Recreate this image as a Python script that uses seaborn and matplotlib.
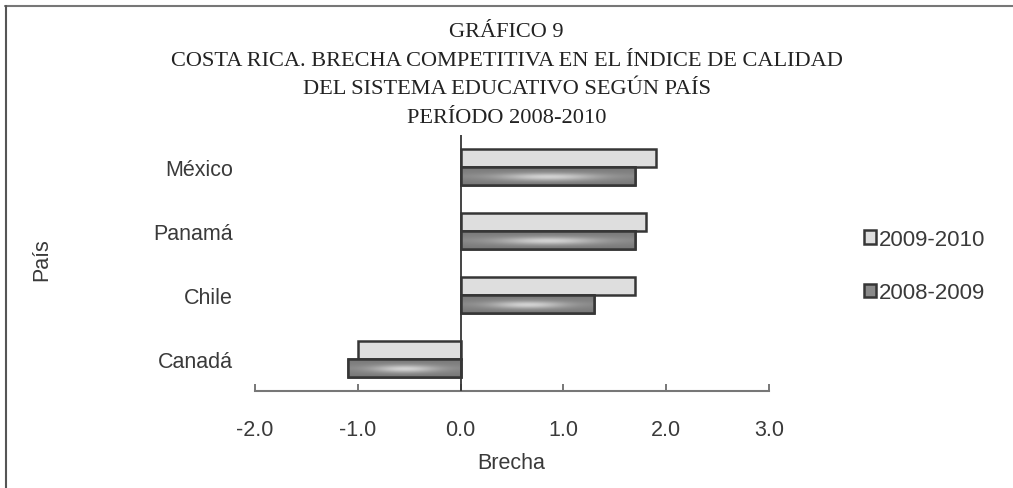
import numpy as np
import pandas as pd
import matplotlib
matplotlib.use('Agg')
import matplotlib.pyplot as plt
from matplotlib.lines import Line2D
from matplotlib.patches import Rectangle
import seaborn as sns

# datos
paises = ['México', 'Panamá', 'Chile', 'Canadá']
periodos = ['2009-2010', '2008-2009']
brecha_0910 = [1.9, 1.8, 1.7, -1.0]
brecha_0809 = [1.7, 1.7, 1.3, -1.1]
xticks = [-2.0, -1.0, 0.0, 1.0, 2.0, 3.0]
titulo = ['GRÁFICO 9',
          'COSTA RICA. BRECHA COMPETITIVA EN EL ÍNDICE DE CALIDAD',
          'DEL SISTEMA EDUCATIVO SEGÚN PAÍS',
          'PERÍODO 2008-2010']

df = pd.DataFrame({
    'País': paises * 2,
    'Periodo': [periodos[0]] * len(paises) + [periodos[1]] * len(paises),
    'Brecha': brecha_0910 + brecha_0809,
})

sns.set_style('white')
plt.rcParams['font.family'] = ['Liberation Sans', 'DejaVu Sans']

W, H = 1013, 489
fig = plt.figure(figsize=(W / 100, H / 100), dpi=100)
ax = fig.add_axes([255 / W, 1 - 392 / H, 514 / W, 256 / H])

edge = '#363636'
txt = '#3a3a3a'
sns.barplot(data=df, y='País', x='Brecha', hue='Periodo', order=paises,
            hue_order=periodos, palette=['#dedede', '#8a8a8a'], orient='h',
            width=0.56, edgecolor=edge, linewidth=1.8, saturation=1,
            errorbar=None, ax=ax)

# brillo metalico en las barras oscuras
u = np.linspace(0, 1, 200)
v = np.linspace(0, 1, 40)
U, V = np.meshgrid(u, v)
grad = 0.47 + 0.30 * np.exp(-((U - 0.5) / 0.28) ** 2) * np.exp(-((V - 0.55) / 0.22) ** 2)
grad += 0.06 * (1 - np.abs(2 * V - 1))
for bar in ax.containers[1]:
    x0, y0, w, h = bar.get_x(), bar.get_y(), bar.get_width(), bar.get_height()
    im = ax.imshow(grad, cmap='gray', vmin=0, vmax=1, aspect='auto',
                   extent=(x0, x0 + w, y0 + h, y0), zorder=bar.get_zorder() + 0.1,
                   interpolation='bilinear')
    im.set_clip_path(bar)
    ax.add_patch(Rectangle((x0, y0), w, h, fill=False, edgecolor=edge,
                           linewidth=1.8, zorder=bar.get_zorder() + 0.2))

ax.set_xlim(-2, 3)
ax.set_ylim(3.5, -0.5)
ax.set_aspect('auto')
ax.axvline(0, color=edge, linewidth=1.3, zorder=5)

for s in ['top', 'right', 'left']:
    ax.spines[s].set_visible(False)
ax.spines['bottom'].set_color('#777777')
ax.spines['bottom'].set_linewidth(1.5)

ax.set_xticks(xticks)
ax.set_xticklabels([f'{t:.1f}' for t in xticks])
ax.tick_params(axis='x', bottom=True, direction='in', length=5, width=1.4,
               color='#777777', pad=20, labelsize=15.5, labelcolor=txt)
ax.tick_params(axis='y', left=False, length=0, pad=16, labelsize=15.5,
               labelcolor=txt)

ax.set_xlabel('Brecha', fontsize=15.5, color=txt, va='center')
ax.xaxis.set_label_coords((511 - 255) / 514, (392 - 464) / 256)
ax.set_ylabel('')
fig.text(42 / W, 1 - 260 / H, 'País', rotation=90, ha='center', va='center',
         fontsize=15.5, color=txt)

# leyenda
leg = ax.get_legend()
handles = leg.legend_handles
labels = [t.get_text() for t in leg.texts]
leg.remove()
for hd in handles:
    hd.set_edgecolor(edge)
    hd.set_linewidth(1.8)
ax.legend(handles, labels, loc='center left', bbox_to_anchor=(864 / W, 1 - 267 / H),
          bbox_transform=fig.transFigure, frameon=False, fontsize=16,
          handlelength=0.55, handleheight=0.55, handletextpad=0.12,
          labelspacing=1.45, borderpad=0, borderaxespad=0, labelcolor=txt)

# titulo
for i, linea in enumerate(titulo):
    fig.text(0.5, 1 - (37 + 28.6 * i) / H, linea, ha='center', va='baseline',
             fontsize=16.1, family=['Liberation Serif', 'DejaVu Serif'], color='#222222')

# marco
fig.add_artist(Line2D([5 / W, 1], [1 - 7 / H] * 2, transform=fig.transFigure,
                      color='#777777', linewidth=1.5))
fig.add_artist(Line2D([5.5 / W] * 2, [0, 1 - 7 / H], transform=fig.transFigure,
                      color='#555555', linewidth=1.5))

fig.savefig('out.png', dpi=100)
